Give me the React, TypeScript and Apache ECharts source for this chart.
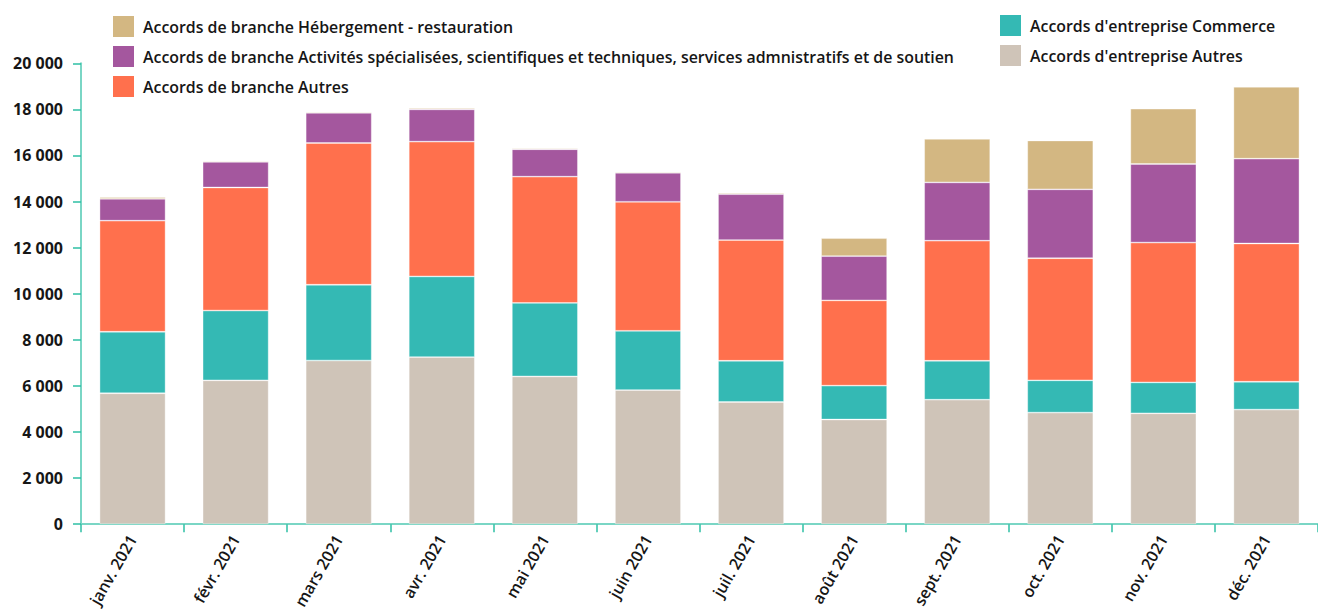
import React, { useEffect, useRef } from "react";
import * as echarts from "echarts";

// Monthly counts of agreements, 2021
const months = [
  "janv. 2021", "févr. 2021", "mars 2021", "avr. 2021", "mai 2021", "juin 2021",
  "juil. 2021", "août 2021", "sept. 2021", "oct. 2021", "nov. 2021", "déc. 2021",
];

const entrepriseAutres = [5680, 6240, 7100, 7250, 6410, 5820, 5300, 4540, 5400, 4840, 4810, 4970];
const entrepriseCommerce = [2670, 3030, 3290, 3500, 3190, 2570, 1790, 1470, 1690, 1400, 1340, 1210];
const brancheAutres = [4820, 5340, 6150, 5850, 5480, 5600, 5240, 3700, 5210, 5300, 6070, 6000];
const brancheActivites = [950, 1110, 1310, 1400, 1190, 1260, 1990, 1920, 2530, 2990, 3410, 3680];
const brancheHebergement = [75, 45, 45, 60, 55, 45, 55, 780, 1890, 2120, 2400, 3120];

const yTicks = [0, 2000, 4000, 6000, 8000, 10000, 12000, 14000, 16000, 18000, 20000];

const NAME_HEB = "Accords de branche Hébergement - restauration";
const NAME_ACT =
  "Accords de branche Activités spécialisées, scientifiques et techniques, services admnistratifs et de soutien";
const NAME_BAUT = "Accords de branche Autres";
const NAME_COM = "Accords d'entreprise Commerce";
const NAME_EAUT = "Accords d'entreprise Autres";

const FONT = "'Open Sans', Lato, sans-serif";
const TEXT = "#161616";

const fmt = (v: number) => String(v).replace(/\B(?=(\d{3})+(?!\d))/g, " ");

export default function App() {
  const ref = useRef<HTMLDivElement>(null);

  useEffect(() => {
    if (!ref.current) return;
    const chart = echarts.init(ref.current, undefined, { renderer: "svg" });

    const bar = (name: string, data: number[], color: string) => ({
      name,
      type: "bar",
      stack: "total",
      barWidth: 66,
      data,
      itemStyle: { color, borderColor: "rgba(255,255,255,0.45)", borderWidth: 0.8 },
      emphasis: { disabled: true },
    });

    const legendBase = {
      orient: "vertical",
      top: 16,
      padding: 0,
      itemWidth: 21,
      itemHeight: 21,
      itemGap: 9,
      icon: "rect",
      selectedMode: false,
      itemStyle: { borderWidth: 0 },
      textStyle: {
        fontFamily: FONT,
        fontWeight: 600,
        fontSize: 15.9,
        color: TEXT,
        padding: [0, 0, 0, 4],
      },
    };

    chart.setOption({
      animation: false,
      backgroundColor: "#ffffff",
      legend: [
        { ...legendBase, left: 113, data: [NAME_HEB, NAME_ACT, NAME_BAUT] },
        { ...legendBase, left: 1000, top: 15, data: [NAME_COM, NAME_EAUT] },
      ],
      grid: { left: 81, right: -7, top: 63.3, bottom: 87 },
      xAxis: {
        type: "category",
        data: months,
        axisLine: { lineStyle: { color: "#7ad6c5", width: 2 } },
        axisTick: { show: true, length: 8, lineStyle: { color: "#2ebfa5", width: 1.5 } },
        axisLabel: {
          rotate: 60,
          margin: 12,
          fontFamily: FONT,
          fontWeight: 600,
          fontSize: 16,
          color: TEXT,
        },
        splitLine: { show: false },
      },
      yAxis: {
        type: "value",
        min: yTicks[0],
        max: yTicks[yTicks.length - 1],
        interval: 2000,
        axisLine: { show: true, lineStyle: { color: "#7ad6c5", width: 2 } },
        axisTick: { show: true, length: 8, lineStyle: { color: "#2ebfa5", width: 1.5 } },
        axisLabel: {
          margin: 18,
          fontFamily: FONT,
          fontWeight: "bold",
          fontSize: 16,
          color: TEXT,
          formatter: (v: number) => fmt(v),
        },
        splitLine: { show: false },
      },
      series: [
        bar(NAME_EAUT, entrepriseAutres, "#cfc4b8"),
        bar(NAME_COM, entrepriseCommerce, "#34b9b4"),
        bar(NAME_BAUT, brancheAutres, "#ff704d"),
        bar(NAME_ACT, brancheActivites, "#a4579e"),
        bar(NAME_HEB, brancheHebergement, "#d3b782"),
      ],
    });

    return () => chart.dispose();
  }, []);

  return (
    <div
      ref={ref}
      style={{ position: "fixed", left: 0, top: 0, width: 1318, height: 612, overflow: "hidden" }}
    />
  );
}
